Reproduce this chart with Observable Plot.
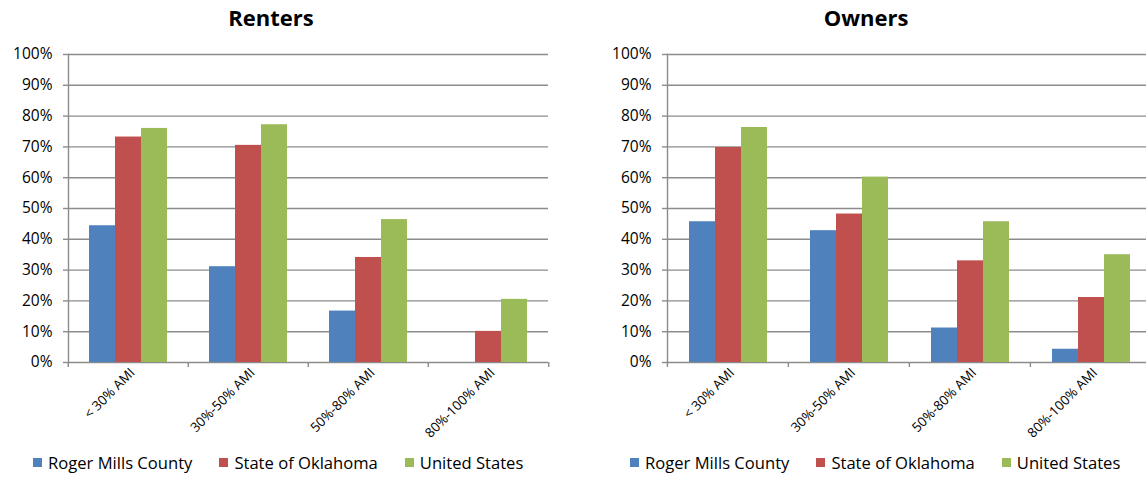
<!DOCTYPE html>
<html>
<head>
<meta charset="utf-8">
<script src="https://cdn.jsdelivr.net/npm/d3@7"></script>
<script src="https://cdn.jsdelivr.net/npm/@observablehq/plot@0.6"></script>
<style>
  html, body { margin: 0; padding: 0; background: #fff; overflow: hidden; }
  #root { position: relative; width: 1146px; height: 477px; overflow: hidden; font-family: "Open Sans", sans-serif; }
  .title { position: absolute; top: 2px; font-weight: bold; font-size: 22px; color: #000; transform: translateX(-50%); white-space: nowrap; }
  .chart { position: absolute; top: 0; }
  .legend { position: absolute; top: 451px; display: flex; align-items: center; gap: 27px; font-size: 16.6px; color: #000; white-space: nowrap; }
  .legend .item { display: flex; align-items: center; gap: 6px; }
  .legend .sw { width: 9px; height: 9px; display: inline-block; }
</style>
</head>
<body>
<div id="root"></div>
<script>
// ---------- data ----------
const categories = ["< 30% AMI", "30%-50% AMI", "50%-80% AMI", "80%-100% AMI"];
const series = ["Roger Mills County", "State of Oklahoma", "United States"];
const colors = ["#4f81bd", "#c0504d", "#9bbb59"];
const yTicks = [0, 0.1, 0.2, 0.3, 0.4, 0.5, 0.6, 0.7, 0.8, 0.9, 1.0];

const rentersCounty = [0.444, 0.311, 0.167, 0];
const rentersState  = [0.732, 0.705, 0.341, 0.101];
const rentersUS     = [0.760, 0.772, 0.464, 0.205];

const ownersCounty = [0.457, 0.428, 0.112, 0.043];
const ownersState  = [0.698, 0.482, 0.330, 0.211];
const ownersUS     = [0.763, 0.602, 0.457, 0.350];

// ---------- chart builder ----------
const gridColor = "#8c8c8c";

function buildChart(values, plotWidth) {
  const rows = categories.flatMap((c, i) =>
    series.map((s, j) => ({ category: c, series: s, value: values[j][i] })));
  const marginLeft = 67, marginRight = 30, marginTop = 54, marginBottom = 83;
  const step = plotWidth / categories.length;
  return Plot.plot({
    width: marginLeft + plotWidth + marginRight,
    height: marginTop + 308 + marginBottom,
    marginLeft, marginRight, marginTop, marginBottom,
    style: { fontFamily: "'Open Sans', sans-serif", color: "#000", background: "transparent", overflow: "visible" },
    fx: { domain: categories, padding: 0, label: null },
    x: { domain: series, paddingInner: 0, paddingOuter: 0.75, axis: null },
    y: { domain: [0, 1], label: null },
    color: { domain: series, range: colors },
    marks: [
      Plot.ruleY(yTicks, { stroke: gridColor, strokeWidth: 1.4 }),
      Plot.barY(rows, { fx: "category", x: "series", y: "value", fill: "series" }),
      Plot.frame({ anchor: "left", facetAnchor: "left", stroke: gridColor, strokeWidth: 1.4 }),
      Plot.axisY({ ticks: yTicks, tickFormat: d3.format(".0%"), tickSize: 5, tickPadding: 11,
                   fontSize: 15.5, stroke: gridColor, strokeWidth: 1.4, label: null }),
      Plot.axisFx({ anchor: "bottom", tickSize: 0, tickRotate: -45, tickPadding: 8, dx: 4,
                    fontSize: 13.3, label: null }),
      Plot.axisFx({ anchor: "bottom", tickSize: 5, tickFormat: () => "", dx: -step / 2, stroke: gridColor, strokeWidth: 1.4, label: null }),
      Plot.axisFx({ anchor: "bottom", ticks: [categories[categories.length - 1]], tickSize: 5, tickFormat: () => "",
                    dx: step / 2, stroke: gridColor, strokeWidth: 1.4, label: null })
    ]
  });
}

function addTitle(text, cx) {
  const t = document.createElement("div");
  t.className = "title";
  t.textContent = text;
  t.style.left = cx + "px";
  root.appendChild(t);
}

function addLegend(left) {
  const lg = document.createElement("div");
  lg.className = "legend";
  lg.style.left = left + "px";
  series.forEach((s, i) => {
    const it = document.createElement("div");
    it.className = "item";
    const sw = document.createElement("span");
    sw.className = "sw";
    sw.style.background = colors[i];
    const tx = document.createElement("span");
    tx.textContent = s;
    it.appendChild(sw); it.appendChild(tx);
    lg.appendChild(it);
  });
  root.appendChild(lg);
}

const root = document.getElementById("root");

const left = buildChart([rentersCounty, rentersState, rentersUS], 482);
left.classList.add("chart");
left.style.left = "0px";
root.appendChild(left);

const right = buildChart([ownersCounty, ownersState, ownersUS], 485);
right.classList.add("chart");
right.style.left = "598.5px";
root.appendChild(right);

addTitle("Renters", 271);
addTitle("Owners", 866);
addLegend(33);
addLegend(630);
</script>
</body>
</html>
